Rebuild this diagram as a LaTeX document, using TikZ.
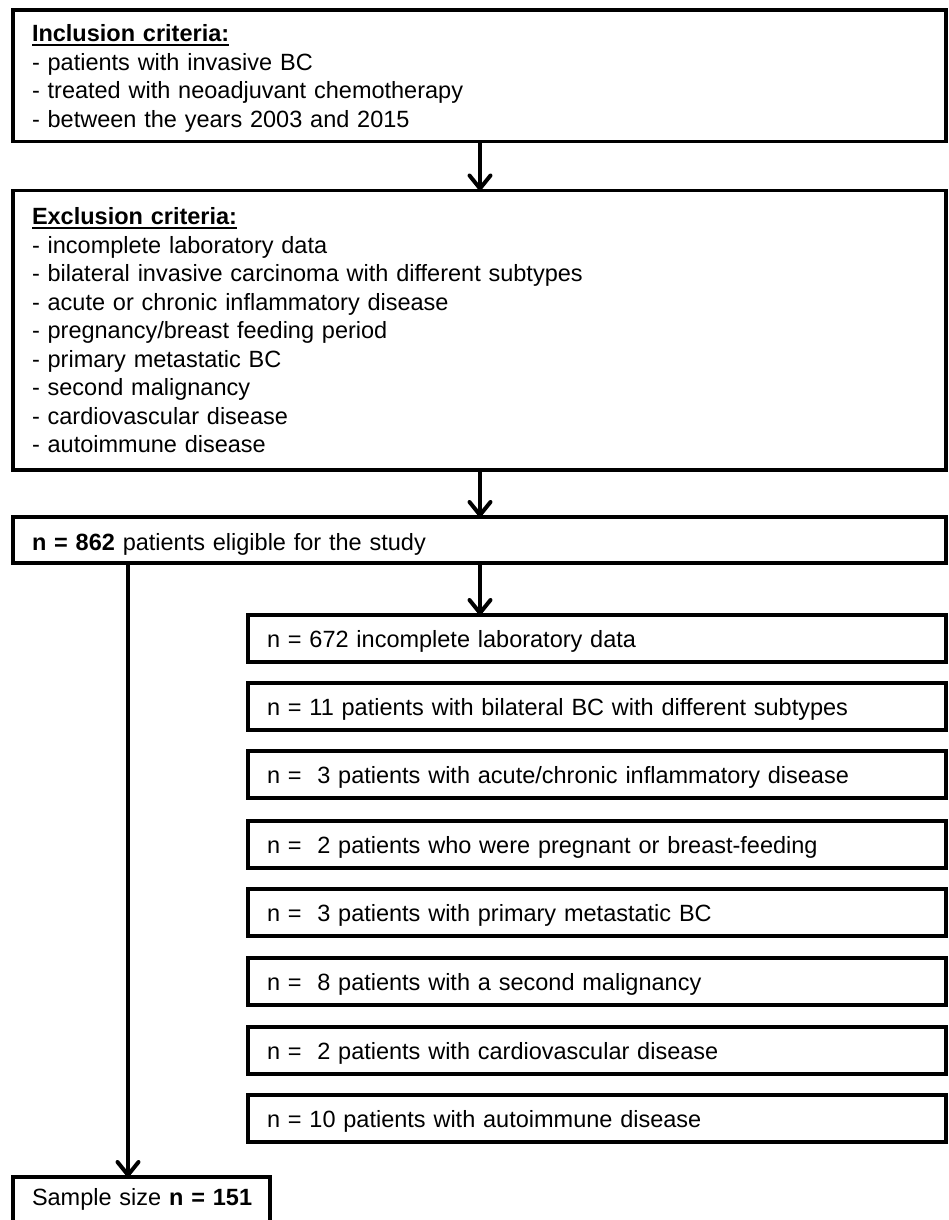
\documentclass[tikz,border=0pt]{standalone}
\usepackage{fontspec}
\setmainfont{Liberation Sans}
\usetikzlibrary{arrows.meta}
\newcommand{\fsz}{\fontsize{23.5pt}{28.5pt}\selectfont}
\newsavebox{\ulbox}
\newcommand{\ulbf}[1]{\sbox{\ulbox}{\textbf{#1}}\rlap{\rule[-4.5pt]{\wd\ulbox}{2pt}}\usebox{\ulbox}}
\begin{document}
\begin{tikzpicture}[x=1pt,y=-1pt,
  box/.style={draw, line width=3.4pt, rectangle, anchor=north west, inner xsep=19pt, inner ysep=0pt, outer sep=0pt, align=left, font=\fsz},
  wbox/.style={box, minimum width=933pt, text width=895pt},
  rbox/.style={box, minimum width=698pt, text width=660pt, minimum height=47pt, text height=19pt, text depth=1pt},
  arr/.style={line width=3.5pt, -{Straight Barb[length=13pt,width=21pt,line width=0.5pt 1,round]}}]
\useasboundingbox (0,0) rectangle (948,1220);
\clip (0,0) rectangle (948,1220);
\fill[white] (0,0) rectangle (948,1220);

\node[wbox, minimum height=131.7pt] (incl) at (13,10)
 {\ulbf{Inclusion criteria:}\\
  - patients with invasive BC\\
  - treated with neoadjuvant chemotherapy\\
  \smash{- between the years 2003 and 2015}};

\node[wbox, minimum height=279.5pt] (excl) at (13,190.5)
 {\ulbf{Exclusion criteria:}\\
  - incomplete laboratory data\\
  - bilateral invasive carcinoma with different subtypes\\
  - acute or chronic inflammatory disease\\
  - pregnancy/breast feeding period\\
  - primary metastatic BC\\
  - second malignancy\\
  - cardiovascular disease\\
  - autoimmune disease};

\node[wbox, minimum height=46pt, text height=20pt, text depth=0pt] (elig) at (13,517)
 {\textbf{n = 862} patients eligible for the study};

\node[rbox] (r1) at (248,615) {n = 672 incomplete laboratory data};
\node[rbox] (r2) at (248,683) {n = 11 patients with bilateral BC with different subtypes};
\node[rbox] (r3) at (248,751) {n =\ \ 3 patients with acute/chronic inflammatory disease};
\node[rbox] (r4) at (248,821) {n =\ \ 2 patients who were pregnant or breast-feeding};
\node[rbox] (r5) at (248,889) {n =\ \ 3 patients with primary metastatic BC};
\node[rbox] (r6) at (248,958) {n =\ \ 8 patients with a second malignancy};
\node[rbox] (r7) at (248,1027) {n =\ \ 2 patients with cardiovascular disease};
\node[rbox] (r8) at (248,1095) {n = 10 patients with autoimmune disease};

\node[box, minimum width=257pt, text width=219pt, minimum height=50pt, text height=17pt, text depth=11pt] (sample) at (13,1177)
 {\mbox{Sample size \textbf{n = 151}}};

\coordinate (ax) at (480,0);
\coordinate (lx) at (128,0);
\draw[arr] (incl.south -| ax) -- (excl.north -| ax);
\draw[arr] (excl.south -| ax) -- (elig.north -| ax);
\draw[arr] (elig.south -| ax) -- (r1.north -| ax);
\draw[arr] (elig.south -| lx) -- (sample.north -| lx);
\end{tikzpicture}
\end{document}
